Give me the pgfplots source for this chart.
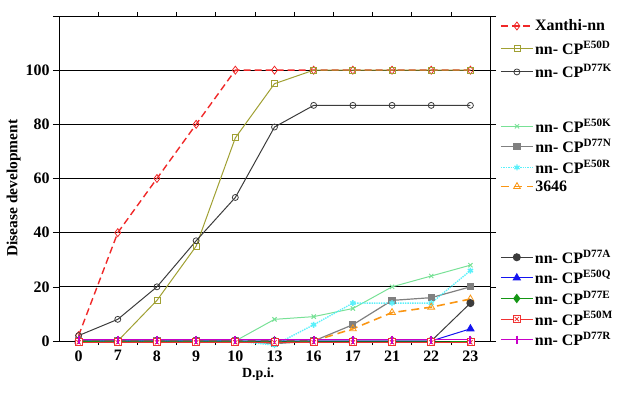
\documentclass[border=0pt]{standalone}
\usepackage{fontspec}
\setmainfont{Liberation Serif}
\usepackage{pgfplots}
\pgfplotsset{compat=1.18}
\pgfdeclareplotmark{sqx}{%
  \pgfpathrectangle{\pgfpoint{-\pgfplotmarksize}{-\pgfplotmarksize}}{\pgfpoint{2\pgfplotmarksize}{2\pgfplotmarksize}}%
  \pgfusepathqfillstroke
  \pgfpathmoveto{\pgfpoint{-0.6\pgfplotmarksize}{-0.6\pgfplotmarksize}}%
  \pgfpathlineto{\pgfpoint{0.6\pgfplotmarksize}{0.6\pgfplotmarksize}}%
  \pgfpathmoveto{\pgfpoint{-0.6\pgfplotmarksize}{0.6\pgfplotmarksize}}%
  \pgfpathlineto{\pgfpoint{0.6\pgfplotmarksize}{-0.6\pgfplotmarksize}}%
  \pgfusepathqstroke}
\definecolor{cXan}{RGB}{240,40,40}
\definecolor{cE50D}{RGB}{160,160,50}
\definecolor{cD77K}{RGB}{60,60,60}
\definecolor{cE50K}{RGB}{120,225,150}
\definecolor{cD77N}{RGB}{128,128,128}
\definecolor{cE50R}{RGB}{90,240,250}
\definecolor{c3646}{RGB}{250,150,20}
\definecolor{cD77A}{RGB}{60,60,60}
\definecolor{cE50Q}{RGB}{20,20,240}
\definecolor{cD77E}{RGB}{20,150,20}
\definecolor{cE50M}{RGB}{240,50,50}
\definecolor{cD77R}{RGB}{200,0,200}
\pgfplotsset{
  base/.style={
    scale only axis, width=431bp, height=325bp,
    xmin=-0.5, xmax=10.5, ymin=0, ymax=120,
    clip=false,
    legend cell align=left,
    legend style={draw=none, fill=none, anchor=north west, inner sep=0pt,
      font=\fontsize{16}{17}\selectfont\bfseries, row sep=1bp,
      nodes={inner sep=1.5bp}},
    legend image code/.code={\draw[mark repeat=2,mark phase=2,##1] plot coordinates {(0bp,0bp)(16bp,0bp)(32bp,0bp)};},
  },
  hid/.style={base, hide axis},
}
\begin{document}
\begin{tikzpicture}
\path[use as bounding box] (-59bp,-68bp) rectangle (576bp,341bp);
\begin{axis}[base,
  xtick={0,...,10}, xticklabels={0,7,8,9,10,13,16,17,21,22,23},
  minor xtick={0.5,1.5,...,9.5},
  ytick={0,20,...,120}, yticklabels={0,20,40,60,80,100,{}},
  ymajorgrids, grid style={black, line width=0.8pt},
  tick align=outside, major tick length=6bp, minor tick length=4bp,
  major x tick style={draw=none}, minor x tick style={black, line width=0.6pt},
  y tick style={black, line width=0.6pt},
  axis line style={black, line width=0.8pt},
  ticklabel style={font=\fontsize{16}{17}\selectfont\bfseries},
  ylabel={Disease development}, xlabel={D.p.i.},
  label style={font=\fontsize{15.5}{17}\selectfont\bfseries},
  ylabel style={at={(ticklabel cs:0.47)}, yshift=-2bp},
  xlabel style={at={(ticklabel cs:0.462)}, font=\fontsize{14}{16}\selectfont\bfseries},
  legend style={at={(axis description cs:1,1)}, xshift=10bp, yshift=-2bp, row sep=5.5bp},
]
\addplot[cXan, dashed, line width=1.4pt, dash pattern=on 7bp off 4bp, mark=diamond, mark size=4bp, mark options={solid, line width=0.8pt, fill=white}]
  coordinates {(0,2)(1,40)(2,60)(3,80)(4,100)(5,100)(6,100)(7,100)(8,100)(9,100)(10,100)};
\addlegendentry{Xanthi-nn}
\addplot[cE50D, line width=1pt, mark=square, mark size=3bp, mark options={line width=0.8pt, fill=white}]
  coordinates {(0,0)(1,0)(2,15)(3,35)(4,75)(5,95)(6,100)(7,100)(8,100)(9,100)(10,100)};
\addlegendentry{nn- CP\textsuperscript{E50D}}
\addplot[cD77K, line width=1pt, mark=o, mark size=3bp, mark options={line width=0.8pt, fill=white}]
  coordinates {(0,2)(1,8)(2,20)(3,37)(4,53)(5,79)(6,87)(7,87)(8,87)(9,87)(10,87)};
\addlegendentry{nn- CP\textsuperscript{D77K}}
\end{axis}
\begin{axis}[hid,
  legend style={at={(axis description cs:1,1)}, xshift=10bp, yshift=-101bp, row sep=2.5bp},
]
\addplot[cE50K, line width=1pt, mark=x, mark size=3bp]
  coordinates {(0,0)(1,0)(2,0)(3,0)(4,0)(5,8)(6,9)(7,12)(8,20)(9,24)(10,28)};
\addlegendentry{nn- CP\textsuperscript{E50K}}
\addplot[cD77N, line width=1.2pt, mark=square*, mark size=3bp]
  coordinates {(0,0)(1,0)(2,0)(3,0)(4,0)(5,-1)(6,0)(7,6)(8,15)(9,16)(10,20)};
\addlegendentry{nn- CP\textsuperscript{D77N}}
\addplot[cE50R, line width=1.4pt, densely dotted, mark=asterisk, mark size=3bp, mark options={solid}]
  coordinates {(0,0)(1,0)(2,0)(3,0)(4,0)(5,-1.5)(6,6)(7,14)(8,14)(9,14)(10,26)};
\addlegendentry{nn- CP\textsuperscript{E50R}}
\addplot[c3646, line width=1.6pt, dash pattern=on 8bp off 5bp, mark=triangle, mark size=4bp, mark options={solid, line width=0.8pt, fill=white}]
  coordinates {(0,0)(1,0)(2,0)(3,0)(4,0)(5,0)(6,0)(7,4.5)(8,10.5)(9,12.5)(10,15.5)};
\addlegendentry{3646}
\end{axis}
\begin{axis}[hid,
  legend style={at={(axis description cs:1,1)}, xshift=10bp, yshift=-232bp, row sep=2.5bp},
]
\addplot[cD77A, line width=1pt, mark=*, mark size=3.5bp]
  coordinates {(0,0)(1,0)(2,0)(3,0)(4,0)(5,0)(6,0)(7,0)(8,0)(9,0)(10,14)};
\addlegendentry{nn- CP\textsuperscript{D77A}}
\addplot[cE50Q, line width=1pt, mark=triangle*, mark size=4bp]
  coordinates {(0,0)(1,0)(2,0)(3,0)(4,0)(5,0)(6,0)(7,0)(8,0)(9,0)(10,4.5)};
\addlegendentry{nn- CP\textsuperscript{E50Q}}
\addplot[cD77E, line width=1pt, mark=diamond*, mark size=4bp]
  coordinates {(0,0)(1,0)(2,0)(3,0)(4,0)(5,0)(6,0)(7,0)(8,0)(9,0)(10,0)};
\addlegendentry{nn- CP\textsuperscript{D77E}}
\addplot[cE50M, line width=1.2pt, mark=sqx, mark size=3.5bp, mark options={fill=white, line width=0.8pt}]
  coordinates {(0,-0.5)(1,-0.5)(2,-0.5)(3,-0.5)(4,-0.5)(5,-0.5)(6,-0.5)(7,-0.5)(8,-0.5)(9,-0.5)(10,-0.5)};
\addlegendentry{nn- CP\textsuperscript{E50M}}
\addplot[cD77R, line width=1.2pt, mark=|, mark size=4bp, mark options={line width=2pt}]
  coordinates {(0,0.5)(1,0.5)(2,0.5)(3,0.5)(4,0.5)(5,0.5)(6,0.5)(7,0.5)(8,0.5)(9,0.5)(10,0.5)};
\addlegendentry{nn- CP\textsuperscript{D77R}}
\end{axis}
\end{tikzpicture}
\end{document}
